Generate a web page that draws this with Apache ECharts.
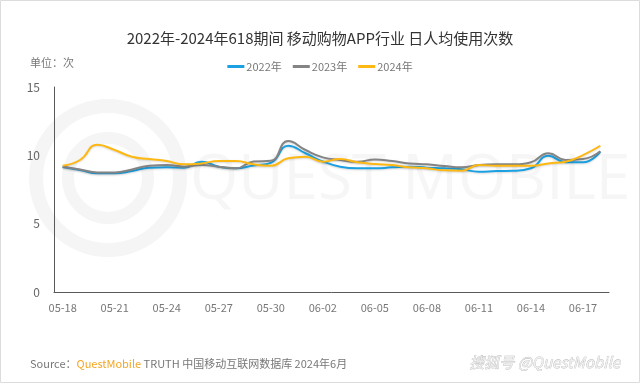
<!DOCTYPE html>
<html>
<head>
<meta charset="utf-8">
<script src="https://cdn.jsdelivr.net/npm/echarts@6/dist/echarts.min.js"></script>
<style>
html,body{margin:0;padding:0;background:#fff;}
#c{width:640px;height:383px;}
</style>
</head>
<body>
<div id="c"></div>
<script>
var categories = ['05-18','05-19','05-20','05-21','05-22','05-23','05-24','05-25','05-26','05-27','05-28','05-29','05-30','05-31',
  '06-01','06-02','06-03','06-04','06-05','06-06','06-07','06-08','06-09','06-10','06-11','06-12','06-13','06-14','06-15','06-16','06-17','06-18'];
var s2022 = [9.15,8.92,8.68,8.68,8.85,9.10,9.12,9.10,9.53,9.17,9.05,9.25,9.45,10.70,10.15,9.55,9.17,9.05,9.05,9.12,9.17,9.10,9.05,8.98,8.80,8.85,8.87,9.05,9.97,9.49,9.49,10.27];
var s2023 = [9.17,8.97,8.75,8.75,8.97,9.24,9.29,9.17,9.29,9.17,9.05,9.55,9.60,11.05,10.39,9.85,9.66,9.53,9.70,9.58,9.41,9.34,9.22,9.12,9.29,9.34,9.34,9.49,10.15,9.66,9.73,10.30];
var s2024 = [9.24,9.66,10.78,10.39,9.90,9.73,9.58,9.34,9.41,9.58,9.58,9.34,9.24,9.78,9.90,9.53,9.73,9.49,9.36,9.29,9.12,9.05,8.90,8.88,9.29,9.24,9.24,9.24,9.41,9.53,10.02,10.70];
var seriesNames = ['2022年','2023年','2024年'];
var colors = ['#1ba1e2','#848484','#fdb813'];
var yTicks = {min:0, max:15, interval:5};

var chart = echarts.init(document.getElementById('c'), null, {renderer:'canvas'});
var font = '"Noto Sans CJK SC","Microsoft YaHei",sans-serif';
var dataSets = [s2022, s2023, s2024];
chart.setOption({
  backgroundColor:'#fff',
  textStyle:{fontFamily:font},
  title:{
    text:'2022年-2024年618期间 移动购物APP行业 日人均使用次数',
    left:'center', top:26,
    textStyle:{fontSize:15, fontWeight:'normal', color:'#333', fontFamily:font}
  },
  legend:{
    data:seriesNames, top:56, left:'center',
    icon:'rect', itemWidth:17, itemHeight:3, itemGap:11,
    textStyle:{fontSize:11, color:'#777', fontFamily:font, padding:[0,0,0,-3]}
  },
  grid:{left:54, right:31, top:87, bottom:91},
  xAxis:{
    type:'category', data:categories, boundaryGap:true,
    axisLine:{lineStyle:{color:'#595959', width:1}},
    axisTick:{show:false},
    axisLabel:{interval:2, color:'#777', fontSize:11, margin:10, fontFamily:font}
  },
  yAxis:{
    type:'value', min:yTicks.min, max:yTicks.max, interval:yTicks.interval,
    splitLine:{show:false},
    axisLine:{show:true, lineStyle:{color:'#595959', width:1}},
    axisTick:{show:false},
    axisLabel:{color:'#666', fontSize:12, margin:14, fontFamily:font}
  },
  graphic:[
    {type:'rect', z:-10, silent:true, shape:{x:0.5,y:0.5,width:639,height:382}, style:{fill:null, stroke:'#dcdcdc', lineWidth:1}},
    {type:'circle', z:-9, silent:true, shape:{cx:108, cy:178, r:72}, style:{fill:null, stroke:'#f5f5f5', lineWidth:14}},
    {type:'circle', z:-9, silent:true, shape:{cx:108, cy:178, r:40}, style:{fill:null, stroke:'#f5f5f5', lineWidth:12}},
    {type:'text', z:-9, silent:true, left:190, top:150, style:{text:'QUEST MOBILE', fontSize:62, fontWeight:'normal', fill:'#f6f6f6', fontFamily:'"Open Sans",sans-serif'}},
    {type:'text', left:30, top:57, style:{text:'单位：次', fontSize:11, fill:'#777', fontFamily:font}},
    {type:'text', left:30, top:358, style:{
      text:'{a|Source：}{b|QuestMobile}{a| TRUTH 中国移动互联网数据库 2024年6月}',
      rich:{a:{fontSize:11, fill:'#777', color:'#777', fontFamily:font}, b:{fontSize:11, fill:'#f5a623', color:'#f5a623', fontFamily:font}}
    }},
    {type:'text', left:469, top:354, style:{text:'搜狐号 @QuestMobile', fontSize:15, fontStyle:'italic', fill:'#eeeeee', stroke:'#b5b5b5', lineWidth:0.6, fontFamily:font}}
  ],
  series:dataSets.map(function(d,i){
    return {
      name:seriesNames[i], type:'line', data:d, smooth:true, showSymbol:false,
      lineStyle:{width:2, color:colors[i], shadowColor:'rgba(0,0,0,0.15)', shadowBlur:2, shadowOffsetY:1},
      itemStyle:{color:colors[i]}
    };
  })
});
</script>
</body>
</html>
